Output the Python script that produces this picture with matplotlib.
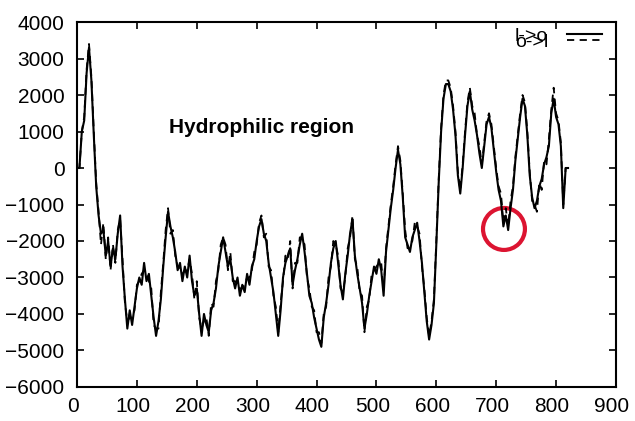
import numpy as np
import matplotlib.pyplot as plt
from matplotlib.patches import Ellipse
from matplotlib.transforms import ScaledTranslation

plt.rcParams['font.family'] = ['Liberation Sans', 'DejaVu Sans']

# residue position, every 4th residue
pos = np.arange(0, 821, 4)

# l->o (solid)
lo = [0, 0, 1000, 1300, 2600, 3300, 2400, 900, -500, -1300,
      -1800, -1700, -2400, -2000, -2700, -2200, -2500, -1800, -1300, -2700,
      -3600, -4400, -3900, -4300, -3800, -3300, -3000, -3200, -2600, -3100,
      -2900, -3500, -4100, -4600, -4200, -3600, -2700, -1900, -1200, -1600,
      -1900, -2300, -2800, -2600, -3100, -2700, -3000, -2400, -3100, -3500,
      -3300, -4000, -4600, -4000, -4300, -4500, -3900, -3700, -3300, -2700,
      -2300, -1900, -2300, -2700, -2500, -3000, -3300, -3000, -3500, -3200,
      -3400, -2900, -3200, -2700, -2500, -2000, -1600, -1400, -1800, -2000,
      -2600, -3000, -3400, -4000, -4600, -3900, -3000, -2600, -2400, -2200,
      -3200, -2800, -2500, -2100, -1800, -2300, -2900, -3500, -3700, -4100,
      -4400, -4700, -4900, -4100, -3700, -3200, -2600, -2200, -2000, -2600,
      -3200, -3600, -2900, -2400, -1800, -1400, -2400, -2900, -3300, -3700,
      -4400, -4000, -3500, -3100, -2700, -2900, -2500, -2800, -3500, -2300,
      -1700, -1100, -600, 0, 500, 100, -800, -1900, -2100, -2300,
      -1900, -1700, -1500, -2000, -2600, -3400, -4200, -4700, -4300, -3700,
      -2100, -400, 1000, 1900, 2300, 2300, 2100, 1600, 900, -200,
      -700, 0, 900, 1700, 2100, 1600, 1300, 900, 400, 0,
      600, 1200, 1400, 1100, 500, -100, -600, -900, -1600, -1300,
      -1700, -1100, -600, 200, 800, 1400, 1900, 1700, 900, -200,
      -800, -1100, -900, -500, -300, 100, 300, 600, 1500, 1900,
      1400, 1200, 600, -1100, 0, 0]

# o->l (dashed)
ol = [0, 0, 1000, 1400, 2700, 3400, 2500, 1000, -400, -1200,
      -2100, -1500, -2500, -1900, -2800, -2100, -2600, -1700, -1400, -2500,
      -3700, -4200, -4100, -4100, -3900, -3200, -3100, -2900, -2800, -2900,
      -3100, -3300, -4300, -4400, -4400, -3400, -2600, -1700, -1100, -1800,
      -1700, -2400, -2700, -2800, -2900, -2800, -2800, -2500, -2900, -3600,
      -3100, -4100, -4400, -4200, -4100, -4600, -3700, -3800, -3100, -2800,
      -2100, -1900, -2100, -2800, -2300, -3100, -3100, -3200, -3300, -3300,
      -3200, -3000, -3000, -2800, -2300, -2100, -1500, -1300, -1900, -1800,
      -2700, -2800, -3500, -3800, -4500, -3700, -3100, -2400, -2500, -2000,
      -3300, -2600, -2600, -1900, -1900, -2100, -3000, -3300, -3800, -3900,
      -4500, -4500, -4800, -4000, -3800, -3000, -2700, -2000, -2100, -2400,
      -3300, -3400, -3000, -2200, -1900, -1300, -2500, -2700, -3400, -3500,
      -4500, -3800, -3600, -2900, -2800, -2700, -2600, -2600, -3300, -2200,
      -1600, -1000, -500, 100, 600, 200, -700, -1700, -2200, -2100,
      -2000, -1500, -1600, -1800, -2700, -3300, -4100, -4600, -4200, -3600,
      -2000, -300, 1100, 2000, 2400, 2400, 2200, 1700, 1000, -100,
      -600, 100, 1000, 1800, 2200, 1700, 1500, 900, 600, 100,
      700, 1300, 1500, 1200, 600, 0, -500, -700, -1500, -1100,
      -1600, -900, -500, 300, 900, 1500, 2000, 1800, 1000, -100,
      -900, -1000, -1200, -400, -600, 200, 100, 800, 1600, 2200,
      1500, 1300, 700, -1000, 0, 0]

fig = plt.figure(figsize=(6.35, 4.21), dpi=100)
ax = fig.add_axes([0.1213, 0.0808, 0.8487, 0.8669])

ax.plot(pos, lo, color='black', lw=1.5, label='l->o')
ax.plot(pos, ol, color='black', lw=1.3, ls=(0, (4, 3)), label='o->l')

ax.set_xlim(0, 900)
ax.set_ylim(-6000, 4000)
ax.set_xticks(np.arange(0, 901, 100))
ax.set_yticks(np.arange(-6000, 4001, 1000))
ax.tick_params(direction='in', length=5, width=1.2, top=True, right=True,
               labelsize=15)
ax.tick_params(axis='y', pad=9)
ax.tick_params(axis='x', pad=7)
for sp in ax.spines.values():
    sp.set_linewidth(1.5)
for lab in ax.get_xticklabels():
    lab.set_transform(lab.get_transform() + ScaledTranslation(-4 / 100, 0, fig.dpi_scale_trans))

ax.text(308, 1120, 'Hydrophilic region', fontsize=15, fontweight='bold',
        ha='center', va='center')

ax.add_patch(Ellipse((713, -1670), 70, 1150, fill=False, ec='#dc1431', lw=3))

ax.legend(loc='upper right', bbox_to_anchor=(0.975, 0.985), frameon=False,
          markerfirst=False, fontsize=14, handlelength=1.8, handletextpad=1.0,
          labelspacing=-0.6, borderpad=0, borderaxespad=0)

fig.savefig('out.png', dpi=100)
